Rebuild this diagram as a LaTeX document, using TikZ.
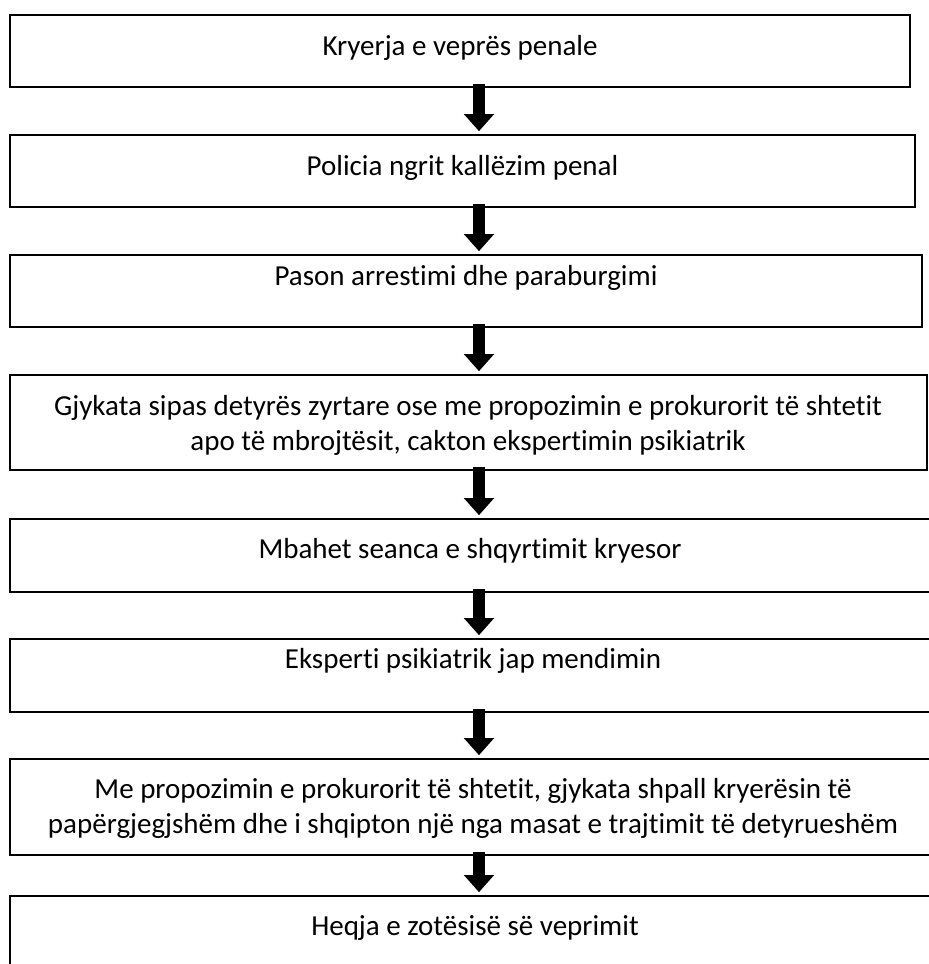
\documentclass[tikz,border=0pt]{standalone}
\usepackage{fontspec}
\setmainfont{Carlito}[Ligatures=NoCommon]
\usetikzlibrary{arrows.meta,calc}
\begin{document}
\begin{tikzpicture}[x=1pt,y=-1pt,
  box/.style={draw=black, line width=1.6pt, rectangle, inner sep=0pt},
  lbl/.style={font=\fontsize{29}{35}\selectfont, align=center, inner sep=0pt, anchor=base},
  flow/.style={line width=12pt, -{Triangle[width=29pt,length=17pt]}}]
\useasboundingbox (0,0) rectangle (929,964);
\clip (0,0) rectangle (929,964);
\coordinate (ax) at (479,0);
\node[box, minimum width=900pt, minimum height=72pt] (b1) at (460,51) {};
\node[box, minimum width=905pt, minimum height=72pt] (b2) at (462.5,171) {};
\node[box, minimum width=912pt, minimum height=72pt] (b3) at (466,291) {};
\node[box, minimum width=917pt, minimum height=95pt] (b4) at (468.5,422.5) {};
\node[box, minimum width=920pt, minimum height=73pt] (b5) at (470,555.5) {};
\node[box, minimum width=928pt, minimum height=73pt] (b6) at (474,675.5) {};
\node[box, minimum width=928pt, minimum height=96pt] (b7) at (474,807) {};
\node[box, minimum width=930pt, minimum height=94pt] (b8) at (475,943) {};
\node[lbl] (t1) at (460,55) {Kryerja e veprës penale};
\node[lbl] (t2) at (462.5,175) {Policia ngrit kallëzim penal};
\node[lbl] (t3) at (466,285) {Pason arrestimi dhe paraburgimi};
\node[lbl] (t4) at (468,450) {Gjykata sipas detyrës zyrtare ose me propozimin e prokurorit të shtetit\\apo të mbrojtësit, cakton ekspertimin psikiatrik};
\node[lbl] (t5) at (470,558) {Mbahet seanca e shqyrtimit kryesor};
\node[lbl] (t6) at (473,668) {Eksperti psikiatrik jap mendimin};
\node[lbl] (t7) at (473,833) {Me propozimin e prokurorit të shtetit, gjykata shpall kryerësin të\\papërgjegjshëm dhe i shqipton një nga masat e trajtimit të detyrueshëm};
\node[lbl] (t8) at (475,935) {Heqja e zotësisë së veprimit};
\draw[flow] ($(b1.south -| ax)+(0,-4)$) -- ($(b2.north -| ax)+(0,-3)$);
\draw[flow] ($(b2.south -| ax)+(0,-4)$) -- ($(b3.north -| ax)+(0,-3)$);
\draw[flow] ($(b3.south -| ax)+(0,-4)$) -- ($(b4.north -| ax)+(0,-3)$);
\draw[flow] ($(b4.south -| ax)+(0,-4)$) -- ($(b5.north -| ax)+(0,-3)$);
\draw[flow] ($(b5.south -| ax)+(0,-4)$) -- ($(b6.north -| ax)+(0,-3)$);
\draw[flow] ($(b6.south -| ax)+(0,-4)$) -- ($(b7.north -| ax)+(0,-3)$);
\draw[flow] ($(b7.south -| ax)+(0,-4)$) -- ($(b8.north -| ax)+(0,-3)$);
\end{tikzpicture}
\end{document}
